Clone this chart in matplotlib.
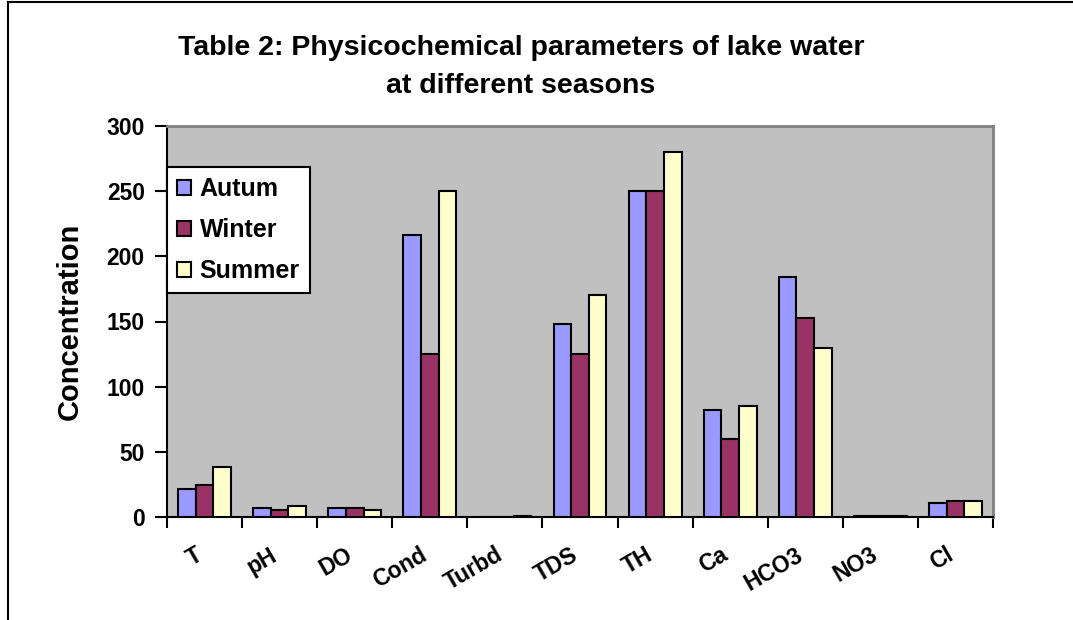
import numpy as np
import matplotlib
matplotlib.use('Agg')
import matplotlib.pyplot as plt
import matplotlib.transforms as mtransforms
from matplotlib.lines import Line2D

plt.rcParams['font.family'] = ['Liberation Sans', 'DejaVu Sans']
plt.rcParams['font.weight'] = 'bold'

params = ['T', 'pH', 'DO', 'Cond', 'Turbd', 'TDS', 'TH', 'Ca', 'HCO3', 'NO3', 'Cl']
autum = [21.5, 7, 7, 216, 0, 148, 250, 82, 184, 0.8, 10.5]
winter = [24.5, 5.5, 7, 125, 0, 125, 250, 60, 153, 0.8, 12]
summer = [38.5, 8.5, 5.5, 250, 1, 170, 280, 85, 130, 0.8, 12]
series = [('Autum', autum, '#9999FF'), ('Winter', winter, '#993366'), ('Summer', summer, '#FFFFCC')]
yticks = [0, 50, 100, 150, 200, 250, 300]

fig = plt.figure(figsize=(10.73, 6.2), dpi=100)
ax = fig.add_axes([167 / 1073, 1 - 517 / 620, (993 - 167) / 1073, (517 - 126) / 620])
ax.set_facecolor('#C0C0C0')

x = np.arange(len(params))
w = 0.235
for i, (name, vals, col) in enumerate(series):
    ax.bar(x + (i - 1) * w, vals, w, color=col, edgecolor='black', linewidth=1.5,
           label=name, zorder=3)

ax.set_xlim(-0.5, len(params) - 0.5)
ax.set_ylim(0, 300)
ax.set_yticks(yticks)
ax.set_yticklabels([str(v) for v in yticks], fontsize=16.5, fontweight='bold')
ax.set_xticks(x)
ax.set_xticklabels(params, fontsize=16.5, fontweight='bold', rotation=30,
                   ha='right', va='top', rotation_mode='anchor')
ax.tick_params(axis='x', which='major', length=0, pad=19)
# shift labels a little left of the category centre
shift = mtransforms.ScaledTranslation(-10 / 100, 0, fig.dpi_scale_trans)
for lbl in ax.get_xticklabels():
    lbl.set_transform(lbl.get_transform() + shift)
ax.set_xticks(np.arange(len(params) + 1) - 0.5, minor=True)
ax.tick_params(axis='x', which='minor', length=8, width=1.5, direction='out')
ax.tick_params(axis='y', length=9, width=1.5, direction='out', pad=7)

for s in ['left', 'bottom']:
    ax.spines[s].set_linewidth(1.5)
    ax.spines[s].set_color('black')
for s in ['top', 'right']:
    ax.spines[s].set_linewidth(2)
    ax.spines[s].set_color('#808080')

ax.set_ylabel('Concentration', fontsize=21, fontweight='bold', labelpad=16)

leg = ax.legend(loc='upper left', bbox_to_anchor=(0.0, 0.895), fontsize=18,
                frameon=True, fancybox=False, framealpha=1, edgecolor='black',
                handlelength=0.55, handleheight=0.55, handletextpad=0.35,
                borderpad=0.4, labelspacing=0.68, borderaxespad=0)
leg.get_frame().set_linewidth(1.5)
for t in leg.get_texts():
    t.set_fontweight('bold')

title_x = 521 / 1073
fig.text(title_x, 1 - 48 / 620, 'Table 2: Physicochemical parameters of lake water',
         ha='center', va='center', fontsize=20.5, fontweight='bold')
fig.text(title_x, 1 - 86 / 620, 'at different seasons',
         ha='center', va='center', fontsize=20.5, fontweight='bold')

# chart border (left and top visible)
fig.add_artist(Line2D([8 / 1073, 8 / 1073], [0, 1 - 2 / 620], color='black', lw=1.5,
                      transform=fig.transFigure))
fig.add_artist(Line2D([8 / 1073, 1], [1 - 2 / 620, 1 - 2 / 620], color='black', lw=1.5,
                      transform=fig.transFigure))

fig.savefig('out.png', dpi=100)
